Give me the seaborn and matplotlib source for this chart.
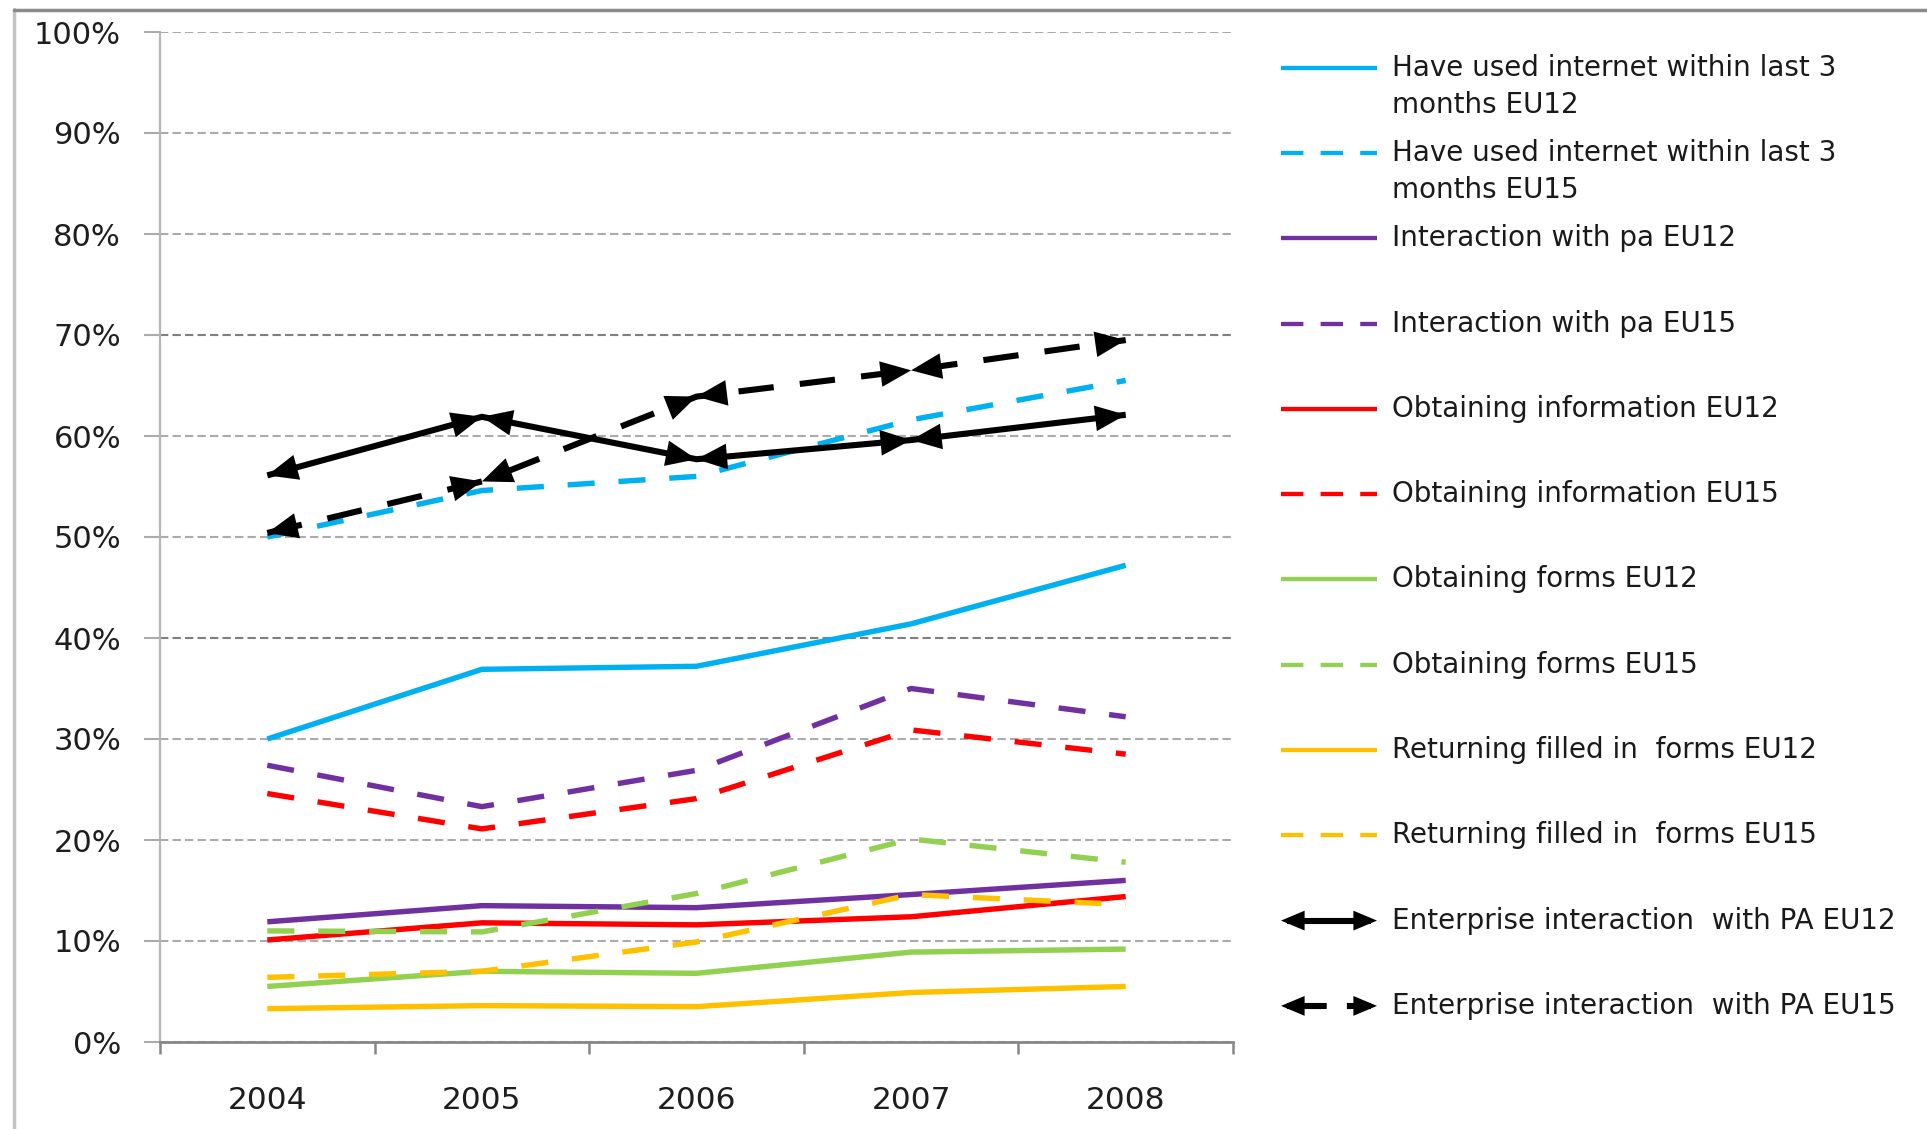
import matplotlib
matplotlib.use('Agg')
import matplotlib.pyplot as plt
import seaborn as sns
from matplotlib.lines import Line2D
from matplotlib.patches import ArrowStyle

# ---------------- data ----------------
years = ['2004', '2005', '2006', '2007', '2008']
internet_eu12 = [30.0, 36.9, 37.2, 41.4, 47.2]
internet_eu15 = [50.0, 54.6, 56.0, 61.6, 65.5]
interaction_eu12 = [11.9, 13.5, 13.3, 14.6, 16.0]
interaction_eu15 = [27.4, 23.3, 26.9, 35.0, 32.2]
information_eu12 = [10.1, 11.8, 11.6, 12.4, 14.4]
information_eu15 = [24.6, 21.1, 24.1, 30.9, 28.5]
forms_eu12 = [5.5, 7.0, 6.8, 8.9, 9.2]
forms_eu15 = [11.0, 10.9, 14.7, 20.1, 17.8]
returning_eu12 = [3.3, 3.6, 3.5, 4.9, 5.5]
returning_eu15 = [6.4, 7.0, 9.9, 14.6, 13.6]
enterprise_eu12 = [56.1, 61.9, 57.7, 59.6, 62.1]
enterprise_eu15 = [50.4, 55.5, 63.9, 66.5, 69.5]

labels = [
    'Have used internet within last 3\nmonths EU12',
    'Have used internet within last 3\nmonths EU15',
    'Interaction with pa EU12',
    'Interaction with pa EU15',
    'Obtaining information EU12',
    'Obtaining information EU15',
    'Obtaining forms EU12',
    'Obtaining forms EU15',
    'Returning filled in  forms EU12',
    'Returning filled in  forms EU15',
    'Enterprise interaction  with PA EU12',
    'Enterprise interaction  with PA EU15',
]
yticks = list(range(0, 101, 10))

# ---------------- style ----------------
CYAN, PURPLE, RED, GREEN, ORANGE, BLACK = '#00B0F0', '#7030A0', '#FF0000', '#92D050', '#FFC000', '#000000'
DASH = (0, (5.0, 4.4))
EDASH = (0, (5.8, 4.3))

series = [
    (internet_eu12, CYAN, '-'),
    (internet_eu15, CYAN, DASH),
    (interaction_eu12, PURPLE, '-'),
    (interaction_eu15, PURPLE, DASH),
    (information_eu12, RED, '-'),
    (information_eu15, RED, DASH),
    (forms_eu12, GREEN, '-'),
    (forms_eu15, GREEN, DASH),
    (returning_eu12, ORANGE, '-'),
    (returning_eu15, ORANGE, DASH),
    (enterprise_eu12, BLACK, '-'),
    (enterprise_eu15, BLACK, EDASH),
]

sns.set_theme(style='white')
plt.rcParams['font.family'] = ['DejaVu Sans']

W, H = 1927, 1129
fig = plt.figure(figsize=(W / 100, H / 100), dpi=100)
fig.patch.set_facecolor('white')
ax = fig.add_axes([160 / W, 1 - 1042 / H, 1073 / W, 1010 / H])
ax.set_facecolor('white')

xpos = list(range(len(years)))
head = ArrowStyle('<|-|>', head_length=1.0, head_width=0.42)

for vals, col, ls in series:
    lw = 4.4 if col == BLACK else 3.9
    sns.lineplot(x=xpos, y=vals, ax=ax, color=col, linewidth=lw,
                 linestyle=ls, legend=False, solid_capstyle='butt',
                 dash_capstyle='butt')
    if col == BLACK:
        for i in range(len(vals) - 1):
            ax.annotate('', xy=(xpos[i + 1], vals[i + 1]), xytext=(xpos[i], vals[i]),
                        arrowprops=dict(arrowstyle=head, lw=0, color=BLACK,
                                        shrinkA=0, shrinkB=0, mutation_scale=22),
                        zorder=5)

ax.set_xlim(-0.5, len(years) - 0.5)
ax.set_ylim(0, 100)
ax.set_yticks(yticks)
ax.set_yticklabels([f'{v}%' for v in yticks])
ax.set_xticks(xpos)
ax.set_xticklabels(years)
ax.set_xticks([i - 0.5 for i in range(len(years) + 1)], minor=True)
ax.set_xlabel('')
ax.set_ylabel('')

ax.set_axisbelow(True)
ax.yaxis.grid(True, color='#ababab', linestyle=(0, (4, 2)), linewidth=1.5)
ax.xaxis.grid(False)
for gl, v in zip(ax.yaxis.get_gridlines(), yticks):
    if v in (40, 70):
        gl.set_color('#7f7f7f')

ax.tick_params(axis='y', which='major', direction='out', length=11.5, width=1.5,
               color='#ababab', pad=16.5, labelsize=22, labelcolor='#1e1e1e', left=True)
ax.tick_params(axis='x', which='major', length=0, pad=32, labelsize=22.5,
               labelcolor='#1e1e1e', bottom=True)
ax.tick_params(axis='x', which='minor', direction='out', length=8.6, width=1.8,
               color='#878787', bottom=True)

for s in ('top', 'right'):
    ax.spines[s].set_visible(False)
ax.spines['left'].set_color('#b4b4b4')
ax.spines['left'].set_linewidth(1.6)
ax.spines['bottom'].set_color('#878787')
ax.spines['bottom'].set_linewidth(2.0)

# ---------------- legend & frame (overlay in pixel coords) ----------------
lax = fig.add_axes([0, 0, 1, 1])
lax.set_xlim(0, W)
lax.set_ylim(H, 0)
lax.axis('off')
lax.patch.set_alpha(0)

lax.add_line(Line2D([13.5, 13.5], [9, H], color='#c4c4c4', lw=2.5))
lax.add_line(Line2D([13.5, W], [9.5, 9.5], color='#8a8a8a', lw=2.5))

x0, x1, xt = 1281, 1377, 1392
ys = [67.6 + 85.3 * i for i in range(len(labels))]
lhead = ArrowStyle('<|-|>', head_length=1.0, head_width=0.42)
for (vals, col, ls), lab, y in zip(series, labels, ys):
    if col == BLACK:
        lls = '-' if ls == '-' else (0, (6.5, 3.3))
        lax.add_line(Line2D([x0 + 6, x1 - 6], [y, y], color=col, lw=4.4,
                            linestyle=lls, solid_capstyle='butt', dash_capstyle='butt'))
        lax.annotate('', xy=(x1, y), xytext=(x0, y),
                     arrowprops=dict(arrowstyle=lhead, lw=0, color=BLACK,
                                     shrinkA=0, shrinkB=0, mutation_scale=17))
    else:
        lls = '-' if ls == '-' else (0, (5.2, 4.0))
        lax.add_line(Line2D([x0, x1], [y, y], color=col, lw=3.1, linestyle=lls,
                            solid_capstyle='butt', dash_capstyle='butt'))
    for k, line in enumerate(lab.split('\n')):
        lax.text(xt, y + 37 * k, line, fontsize=20, color='#1a1a1a',
                 va='center', ha='left')

fig.savefig('out.png', dpi=100, facecolor='white')
